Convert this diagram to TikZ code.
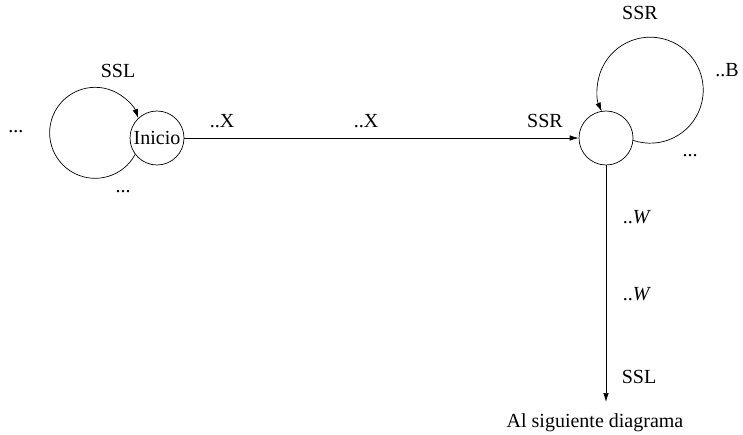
\documentclass[tikz,border=0pt]{standalone}
\usepackage{fontspec}
\setmainfont{Liberation Serif}
\usetikzlibrary{arrows.meta}

\begin{document}
\begin{tikzpicture}[x=1pt,y=1pt,line width=.7pt,font=\fontsize{20}{24}\selectfont,
  estado/.style={draw,circle,minimum size=54pt,inner sep=0pt},
  etiq/.style={anchor=base,inner sep=0pt},
  flecha/.style={-{Latex[length=9pt,width=5.5pt]}}]
\useasboundingbox (0,0) rectangle (743,434);
\node[estado] (ini) at (157,296) {Inicio};
\node[estado] (est) at (606,296) {};
\node[etiq] (sig) at (595,7) {Al siguiente diagrama};
\coordinate (fin) at (606,32);
\draw[flecha] (ini.217) arc[start angle=-28.4,end angle=-341.2,radius=45.5];
\draw[flecha] (ini) -- (est);
\draw[flecha] (est.-5) arc[start angle=251.3,end angle=563.7,radius=53];
\draw[flecha] (est) -- (fin);
\node[etiq] (sslini) at (118,356) {SSL};
\node[etiq] (ptsizq) at (16,301) {...};
\node[etiq] (ptsaba) at (123,241) {...};
\node[etiq] (x1) at (222,306) {..X};
\node[etiq] (x2) at (366,306) {..X};
\node[etiq] (ssrent) at (545,306) {SSR};
\node[etiq] (ssrarr) at (640,414) {SSR};
\node[etiq] (b) at (727,357) {..B};
\node[etiq] (ptsder) at (690,277) {...};
\node[etiq] (w1) at (637,211) {..\textit{W}};
\node[etiq] (w2) at (637,134) {..\textit{W}};
\node[etiq] (ssl2) at (639,51) {SSL};
\end{tikzpicture}
\end{document}
